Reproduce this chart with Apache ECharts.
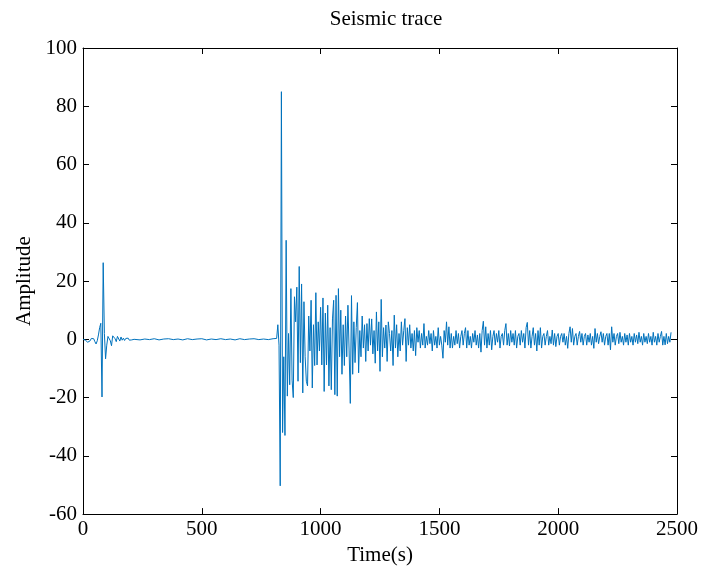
<!DOCTYPE html>
<html>
<head>
<meta charset="utf-8">
<script src="https://cdn.jsdelivr.net/npm/echarts@6/dist/echarts.min.js"></script>
<style>
html,body{margin:0;padding:0;background:#fff;}
#c{width:701px;height:571px;}
</style>
</head>
<body>
<div id="c"></div>
<script>
// ---- Data ----
const chartTitle = 'Seismic trace';
const xName = 'Time(s)';
const yName = 'Amplitude';
const xTicks = [0, 500, 1000, 1500, 2000, 2500];
const yTicks = [-60, -40, -20, 0, 20, 40, 60, 80, 100];

// Segment 1: first arrival, t = 0 .. 215 s, every 5 s
const seg1Start = 0, seg1Step = 5;
const seg1Values = [
  0, 0.3, -0.3, -0.8, -1, -1, -0.5, 0.3, 0.7, 0.2,
  -0.8, -1.6, -0.5, 1.5, 4, 5.5, -19.8, 26.3, 2, -6.7,
  -2, 1, 1.5, -0.5, -2.2, 1.2, 0.8, 0.2, -0.8, 1,
  0.5, -0.6, 0.8, -0.3, 0.4, -0.4, 0.3, -0.2, 0.4, -0.3,
  0.2, -0.2, 0.1, 0
];

// Segment 2: quiet interval, t = 220 .. 800 s, every 20 s
const seg2Start = 220, seg2Step = 20;
const seg2Values = [
  0.2, -0.2, 0.1, -0.1, 0.2, -0.2, 0.1, 0.2, -0.1, 0.1,
  -0.2, 0.2, -0.1, 0.1, 0.2, -0.2, 0.1, -0.1, 0.2, -0.1,
  0.1, -0.2, 0.2, -0.1, 0.1, 0.2, -0.1, 0.1, -0.1, 0.2
];

// Segment 3: main event and coda, t = 815 .. 2475 s, every 5 s
const seg3Start = 815, seg3Step = 5;
const seg3Values = [
  0.3, 5, -2, -50.3, 85, -32, -6, -33, 34, -19.5, 2, -15.6, 17.4, -14, -20, 14.6, 6, 17.9, -14.4, 25,
  -8, 19, -18.4, 12.9, -6, -14.4, -16, 8, -4, 13.4, -16.7, 5, -9, 16, -8.8, 6, -4, 11, -8.8, 14.2,
  -17.9, 9, -8.8, 11.7, -16, 4, -17.3, 7, 13.4, -19, 15.1, -19.5, 17.4, -6, 10, -12, 5, -9, 8, -6,
  11.7, -4, -22, 15, -12, 6, -8, 4, 12.6, -11.5, 3, -6, 8, -3, 5, -7.6, 5.4, -4, 7.1, -2,
  7, -5, 3, -8.2, 9.4, -4, 6, -11, 13.7, -6, 4, -3, 4.9, -7.6, 6, 2, -4, 3, -9, 8.3,
  -3, 5, -6, 2, -4, 6, -2, 3, 7.1, -7.6, 4, -2, 5, -3, 2, -4, 3, -5.6, 4, -1,
  3, -3, 2, -2, 5.4, -3, 1, -2, 3, -1.5, 2, -4, 3, -2, 1, -3, 4, -2, 1, -2,
  -6.5, 3, -1, 6, -2, 4.3, -3, 2, -3, 1, -2, 3, -1.5, 2, -3, 1, 3, -2, 2, 4,
  -3, 3, -2, 1, -3, 2, -1, 3, -2, 1.5, -3, 2, -4.4, 3, 6.2, -2, 4.3, -3, 2, -2,
  3, -3.6, 1, 3, -2, 2, -1, 3, -3, 1, 2, -2, 3, 5.4, -2, 2, -2.3, 3, -1, 2,
  -2, 3, -3, 1, 2, -2, 3, -1, 2, -3, 4, 5.8, -2, 3, -3, 1, 4, -2, 2, -4,
  3, -2, 4, -3, 1, 2, -2, 1, 3, -2, 1, -1.5, 3.2, -2, 2, -2.5, 1, 2, -2, 1,
  2, -1, 2, -2, 1, -3.1, 2, 4.3, -1, 3.7, -2, 1, 2, -2, 1, 2.7, -1, 2, -2, 1,
  2, -2, 1.5, -1, 2, -2, 1, -3.1, 3.7, -1, 2, -1.5, 1, 2.6, -1, 2, -2, 1, 2, -2,
  2, -3.6, 4.3, -1, 2, -2, 1, 2, -1.5, 2.4, -1, 1, -2, 2, -1, 1.5, -2, 2, -1, 1,
  -2, 2, -1, 1.5, -1.5, 2.4, -1, 1, -2, 2, -1, 1, -1.5, 2, -1, 1, -2, 2.4, -1, 1,
  -2, 2, -1, 1, 2.7, -2, 1, -1.9, 2, -1.5, 1, -1, 2.4
];

// ---- Build the series table from the segments ----
function segPairs(start, step, vals) {
  return vals.map((v, i) => [start + i * step, v]);
}
const traceData = []
  .concat(segPairs(seg1Start, seg1Step, seg1Values))
  .concat(segPairs(seg2Start, seg2Step, seg2Values))
  .concat(segPairs(seg3Start, seg3Step, seg3Values));

const FONT = "'Liberation Serif', 'Times New Roman', serif";
const FS = 21;
const xMin = xTicks[0], xMax = xTicks[xTicks.length - 1], xInt = xTicks[1] - xTicks[0];
const yMin = yTicks[0], yMax = yTicks[yTicks.length - 1], yInt = yTicks[1] - yTicks[0];

const axisLineStyle = { show: true, onZero: false, lineStyle: { color: '#000', width: 1 } };
const tickStyle = { show: true, inside: true, length: 6, lineStyle: { color: '#000', width: 1 } };
const labelStyle = { color: '#000', fontFamily: FONT, fontSize: FS, formatter: v => String(v) };

const chart = echarts.init(document.getElementById('c'), null, { renderer: 'canvas' });
chart.setOption({
  animation: false,
  backgroundColor: '#fff',
  title: {
    text: chartTitle,
    left: 381, top: 4, textAlign: 'center',
    textStyle: { fontFamily: FONT, fontSize: FS, fontWeight: 'normal', color: '#000' }
  },
  grid: { left: 83, right: 24, top: 48, bottom: 54, containLabel: false },
  xAxis: [
    {
      type: 'value', min: xMin, max: xMax, interval: xInt, position: 'bottom',
      axisLine: axisLineStyle, axisTick: tickStyle,
      axisLabel: Object.assign({ margin: 5 }, labelStyle),
      splitLine: { show: false },
      name: xName, nameLocation: 'middle', nameGap: 28,
      nameTextStyle: { fontFamily: FONT, fontSize: FS, color: '#000' }
    },
    {
      type: 'value', min: xMin, max: xMax, interval: xInt, position: 'top',
      axisLine: axisLineStyle, axisTick: tickStyle,
      axisLabel: { show: false }, splitLine: { show: false }
    }
  ],
  yAxis: [
    {
      type: 'value', min: yMin, max: yMax, interval: yInt, position: 'left',
      axisLine: axisLineStyle, axisTick: tickStyle,
      axisLabel: Object.assign({ margin: 6 }, labelStyle),
      splitLine: { show: false },
      name: yName, nameLocation: 'middle', nameGap: 48, nameRotate: 90,
      nameTextStyle: { fontFamily: FONT, fontSize: FS, color: '#000' }
    },
    {
      type: 'value', min: yMin, max: yMax, interval: yInt, position: 'right',
      axisLine: axisLineStyle, axisTick: tickStyle,
      axisLabel: { show: false }, splitLine: { show: false }
    }
  ],
  series: [{
    type: 'line',
    xAxisIndex: 0, yAxisIndex: 0,
    data: traceData,
    showSymbol: false,
    sampling: null,
    lineStyle: { color: '#0072BD', width: 1 },
    itemStyle: { color: '#0072BD' }
  }]
});
</script>
</body>
</html>
